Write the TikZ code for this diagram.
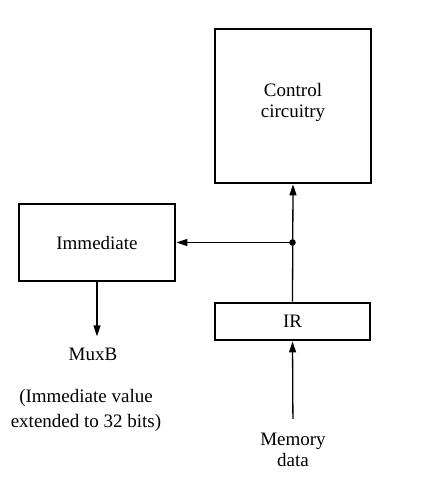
\documentclass[tikz,border=0pt]{standalone}
\usepackage{fontspec}
\setmainfont{Liberation Serif}
\usetikzlibrary{arrows.meta}
\begin{document}
\begin{tikzpicture}[x=1bp,y=-1bp,
  blk/.style={draw, line width=2.8bp, inner sep=0pt, anchor=center},
  lbl/.style={inner sep=0pt, align=center, font=\fontsize{19bp}{24bp}\selectfont},
  wire/.style={line width=1.3bp},
  arr/.style={wire, -{Triangle[length=11bp,width=7bp]}}]
\useasboundingbox (0,0) rectangle (421,490);
\node[blk, minimum width=156bp, minimum height=154bp] (ctrl) at (293,106) {};
\node[lbl, font=\fontsize{19bp}{20.5bp}\selectfont] (ctrltext) at (293,102.5) {Control\\circuitry};
\node[blk, minimum width=156bp, minimum height=77bp, font=\fontsize{19bp}{24bp}\selectfont] (imm) at (97,242.5) {Immediate};
\node[blk, minimum width=155bp, minimum height=37bp, font=\fontsize{19bp}{24bp}\selectfont] (ir) at (292.5,321.5) {IR};
\node[lbl, anchor=base] (muxb) at (93,360) {MuxB};
\node[lbl, font=\fontsize{19bp}{25bp}\selectfont] (note) at (86,410) {(Immediate value\\extended to 32 bits)};
\node[lbl, font=\fontsize{19bp}{21bp}\selectfont] (mem) at (293,450) {Memory\\data};
\coordinate (dot) at (ir.north |- imm.east);
\draw[arr] (ir.north) -- (ctrl.south);
\fill (dot) circle (3.3bp);
\draw[arr] (dot) -- (imm.east);
\draw[arr, shorten >=11bp] (imm.south) -- (imm.south |- muxb.north);
\draw[arr, shorten <=14bp] (mem.north) -- (ir.south);
\end{tikzpicture}
\end{document}
